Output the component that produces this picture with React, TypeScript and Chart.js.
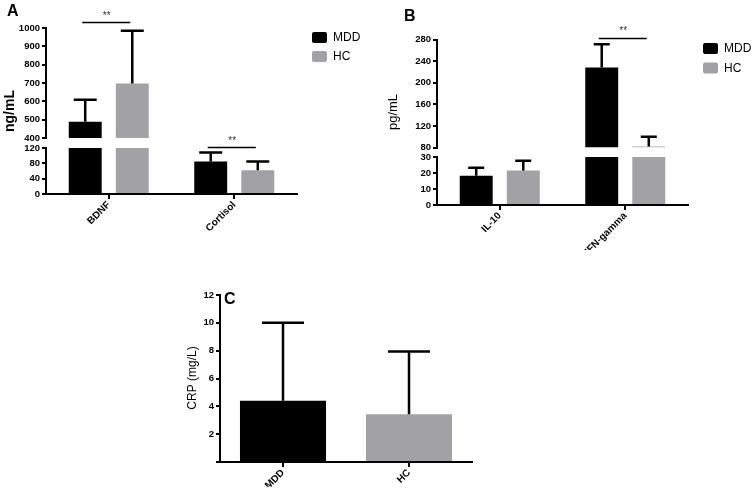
import React, { useEffect, useRef } from 'react';
import { Chart, registerables } from 'chart.js';

Chart.register(...registerables);

// ---------------- data ----------------
const seriesNames = ['MDD', 'HC'];

const aCategories = ['BDNF', 'Cortisol'];
const aMDD = [489, 85];
const aMDDsd = [119, 23];
const aHC = [697, 62];
const aHCsd = [288, 23];
const aUpperRange = [400, 1000];
const aUpperStep = 100;
const aLowerRange = [0, 120];
const aLowerStep = 40;
const aSigUpper = [[0, 1030]]; // [category index, level]
const aSigLower = [[1, 121]];

const bCategories = ['IL-10', 'IFN-gamma'];
const bMDD = [18.3, 228];
const bMDDsd = [5, 43];
const bHC = [21.5, 82];
const bHCsd = [6.2, 18];
const bUpperRange = [80, 280];
const bUpperStep = 40;
const bLowerRange = [0, 30];
const bLowerStep = 10;
const bSigUpper = [[1, 282]];

const cCategories = ['MDD', 'HC'];
const cValues = [4.4, 3.44];
const cSD = [5.6, 4.5];
const cRange = [0, 12];
const cStep = 2;

// ---------------- style ----------------
const W = 753;
const H = 491;
const FONT = '"Liberation Sans", Arial, Helvetica, sans-serif';
const BLACK = '#000000';
const GRAY = '#a2a2a6';
const YW = 40;

function text(ctx: any, s: string, x: number, y: number, font: string, align = 'left', baseline = 'alphabetic', rot = 0, color = BLACK) {
  ctx.save();
  ctx.font = font;
  ctx.fillStyle = color;
  ctx.textAlign = align;
  ctx.textBaseline = baseline;
  ctx.translate(x, y);
  if (rot) ctx.rotate(rot);
  ctx.fillText(s, 0, 0);
  ctx.restore();
}

function legend(ctx: any, x: number, y0: number, gap: number) {
  const colors = [BLACK, GRAY];
  seriesNames.forEach((n, i) => {
    const y = y0 + i * gap;
    ctx.save();
    ctx.fillStyle = colors[i];
    ctx.beginPath();
    if (ctx.roundRect) ctx.roundRect(x, y, 15, 11, 2);
    else ctx.rect(x, y, 15, 11);
    ctx.fill();
    ctx.restore();
    text(ctx, n, x + 21, y + 6, '12px ' + FONT, 'left', 'middle');
  });
}

function sig(chart: any, list: number[][]) {
  const ctx = chart.ctx;
  const y = chart.scales.y;
  list.forEach(([cat, level]) => {
    const x0 = chart.getDatasetMeta(0).data[cat].x;
    const x1 = chart.getDatasetMeta(1).data[cat].x;
    const py = y.getPixelForValue(level);
    ctx.save();
    ctx.strokeStyle = BLACK;
    ctx.lineWidth = 1.5;
    ctx.beginPath();
    ctx.moveTo(x0 - 3, py);
    ctx.lineTo(x1 - 2, py);
    ctx.stroke();
    ctx.restore();
    text(ctx, '**', (x0 + x1) / 2 - 2, py - 4, '10px ' + FONT, 'center', 'alphabetic', 0, '#333');
  });
}

const mkSeries = {
  mdd: (m: number[], s: number[]) => ({ name: seriesNames[0], color: BLACK, mean: m, sd: s }),
  hc: (m: number[], s: number[]) => ({ name: seriesNames[1], color: GRAY, mean: m, sd: s }),
};

const segments: any[] = [
  {
    labels: aCategories,
    series: [mkSeries.mdd(aMDD, aMDDsd), mkSeries.hc(aHC, aHCsd)],
    range: aUpperRange, step: aUpperStep,
    area: { left: 46, right: 297, top: 28, bottom: 138 },
    showX: false, cap: 23, barPct: 0.7, catPct: 0.75,
    decorate: (chart: any) => {
      const ctx = chart.ctx;
      text(ctx, 'A', 7, 15.5, 'bold 16px ' + FONT);
      text(ctx, 'ng/mL', 10, 111, 'bold 14px ' + FONT, 'center', 'middle', -Math.PI / 2);
      legend(ctx, 312, 32, 19);
      sig(chart, aSigUpper);
    },
  },
  {
    labels: aCategories,
    series: [mkSeries.mdd(aMDD, aMDDsd), mkSeries.hc(aHC, aHCsd)],
    range: aLowerRange, step: aLowerStep,
    area: { left: 46, right: 297, top: 148, bottom: 194 },
    showX: true, cap: 23, barPct: 0.7, catPct: 0.75,
    decorate: (chart: any) => sig(chart, aSigLower),
  },
  {
    labels: bCategories,
    series: [mkSeries.mdd(bMDD, bMDDsd), mkSeries.hc(bHC, bHCsd)],
    range: bUpperRange, step: bUpperStep,
    area: { left: 437, right: 688, top: 39.5, bottom: 147.5 },
    showX: false, cap: 16, barPct: 0.7, catPct: 0.75,
    decorate: (chart: any) => {
      const ctx = chart.ctx;
      text(ctx, 'B', 404, 20.5, 'bold 16px ' + FONT);
      text(ctx, 'pg/mL', 393, 112, '13px ' + FONT, 'center', 'middle', -Math.PI / 2);
      legend(ctx, 703, 43, 19.5);
      sig(chart, bSigUpper);
    },
  },
  {
    labels: bCategories,
    series: [mkSeries.mdd(bMDD, bMDDsd), mkSeries.hc(bHC, bHCsd)],
    range: bLowerRange, step: bLowerStep,
    area: { left: 437, right: 688, top: 157, bottom: 205 },
    showX: true, cap: 16, barPct: 0.7, catPct: 0.75,
    decorate: null,
  },
  {
    labels: cCategories,
    series: [{ name: 'CRP', color: [BLACK, GRAY], mean: cValues, sd: cSD }],
    range: cRange, step: cStep,
    area: { left: 220, right: 472, top: 295, bottom: 462 },
    showX: true, cap: 42, barPct: 0.683, catPct: 1, hideZero: true,
    decorate: (chart: any) => {
      const ctx = chart.ctx;
      text(ctx, 'C', 224, 304, 'bold 16px ' + FONT);
      text(ctx, 'CRP (mg/L)', 193, 378, '12px ' + FONT, 'center', 'middle', -Math.PI / 2);
    },
  },
];

function errorBarPlugin(seg: any) {
  return {
    id: 'errorBars',
    afterDatasetsDraw(chart: any) {
      const ctx = chart.ctx;
      const y = chart.scales.y;
      const cap = seg.cap;
      seg.series.forEach((s: any, i: number) => {
        const meta = chart.getDatasetMeta(i);
        meta.data.forEach((bar: any, j: number) => {
          const m = s.mean[j];
          const top = m + s.sd[j];
          if (top < y.min || top > y.max) return;
          if (!bar || !Number.isFinite(bar.x)) return;
          const y0 = y.getPixelForValue(Math.max(m, y.min));
          const y1 = y.getPixelForValue(top);
          ctx.save();
          ctx.strokeStyle = BLACK;
          ctx.lineWidth = 2.5;
          ctx.beginPath();
          ctx.moveTo(bar.x, y0);
          ctx.lineTo(bar.x, y1);
          ctx.moveTo(bar.x - cap / 2, y1);
          ctx.lineTo(bar.x + cap / 2, y1);
          ctx.stroke();
          ctx.restore();
        });
      });
    },
  };
}

function decorPlugin(seg: any) {
  return {
    id: 'decor',
    afterDraw(chart: any) {
      if (seg.decorate) seg.decorate(chart);
    },
  };
}

function buildConfig(seg: any): any {
  const [min, max] = seg.range;
  const XH = seg.showX ? (seg.area.bottom > 400 ? 25 : 45) : 0;
  return {
    type: 'bar',
    data: {
      labels: seg.labels,
      datasets: seg.series.map((s: any) => ({
        label: s.name,
        data: s.mean.map((v: number) => (v <= min ? null : min > 0 ? [min, Math.min(v, max)] : Math.min(v, max))),
        backgroundColor: s.color,
        borderWidth: 0,
        barPercentage: seg.barPct,
        categoryPercentage: seg.catPct,
      })),
    },
    options: {
      responsive: false,
      animation: false,
      devicePixelRatio: 1,
      events: [],
      layout: {
        padding: {
          left: seg.area.left - YW,
          right: W - seg.area.right,
          top: seg.area.top,
          bottom: H - seg.area.bottom - XH,
        },
      },
      plugins: {
        legend: { display: false },
        tooltip: { enabled: false },
      },
      scales: {
        x: {
          type: 'category',
          display: seg.showX,
          offset: true,
          grid: { display: true, offset: false, drawOnChartArea: false, drawTicks: true, tickLength: 5, color: BLACK, lineWidth: 2 },
          border: { display: true, color: BLACK, width: 2 },
          ticks: { minRotation: 45, maxRotation: 45, autoSkip: false, padding: 0, color: BLACK, font: { family: FONT, size: 10, weight: 'bold' } },
          afterFit: (s: any) => { s.height = XH; },
        },
        y: {
          type: 'linear',
          min, max,
          ticks: {
            stepSize: seg.step, autoSkip: false, color: BLACK, padding: 2,
            font: { family: FONT, size: 9.5, weight: 'bold' },
            callback: (v: number) => (seg.hideZero && v === 0 ? '' : String(v)),
          },
          grid: { display: true, drawOnChartArea: false, drawTicks: true, tickLength: 4, color: BLACK, lineWidth: 2 },
          border: { display: true, color: BLACK, width: 2 },
          afterFit: (s: any) => { s.width = YW; },
        },
      },
    },
    plugins: [errorBarPlugin(seg), decorPlugin(seg)],
  };
}

export default function App() {
  const refs = useRef<(HTMLCanvasElement | null)[]>([]);
  useEffect(() => {
    const charts = segments.map((seg, i) => new Chart(refs.current[i] as HTMLCanvasElement, buildConfig(seg)));
    return () => charts.forEach((c) => c.destroy());
  }, []);
  return (
    <div style={{ position: 'absolute', left: 0, top: 0, width: W, height: H, background: '#ffffff' }}>
      {segments.map((_, i) => (
        <canvas
          key={i}
          ref={(el) => { refs.current[i] = el; }}
          width={W}
          height={H}
          style={{ position: 'absolute', left: 0, top: 0, width: W, height: H }}
        />
      ))}
    </div>
  );
}
